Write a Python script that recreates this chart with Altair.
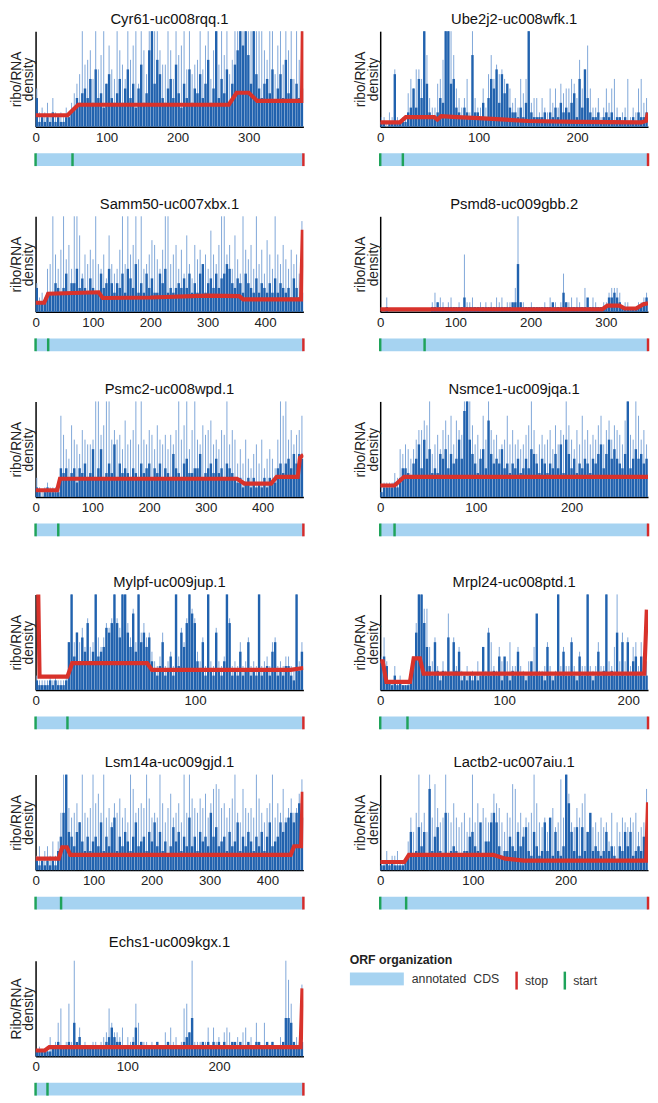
import altair as alt
import pandas as pd

FONT = "Liberation Sans"

GENES = ["Cyr61-uc008rqq.1", "Ube2j2-uc008wfk.1", "Samm50-uc007xbx.1", "Psmd8-uc009gbb.2",
         "Psmc2-uc008wpd.1", "Nsmce1-uc009jqa.1", "Mylpf-uc009jup.1", "Mrpl24-uc008ptd.1",
         "Lsm14a-uc009gjd.1", "Lactb2-uc007aiu.1", "Echs1-uc009kgx.1"]
LENGTHS = [377, 272, 467, 356, 472, 280, 168, 216, 462, 289, 292]
STARTS = [52, 23, 22, 59, 40, 15, 20, 22, 44, 28, 13]
Y_TITLES = [["ribo/RNA", "density"]] * 10 + [["Ribo/RNA", "density"]]

# bar heights, one character per bin (base-36 digit / 2 -> density, capped at 10 = top)
DARK = [
    "612121312112" "2346" "5786A5C6749B65" "7A58C6948D57" "GK9EB6" "58A6D7496C58" "7B69E58K6A7C59" "DGKHKF9KB8" "69A7C58B6E7A5968",
    "11011B1111" "3484A6K932" "2365KK9A43" "2432F33252" "6A8C5B7943" "32425K3222" "2313242534" "3572A4C632" "2312323122" "1211213223",
    "5222444654" "5846695754" "7544856964" "6584975A46" "4857448694" "5456575846" "48A4675857" "8A96576486" "5474654647" "4654537534",
    "0010000000" "0000000001" "1211111111" "1311111111" "1111111112" "2A21111111" "1111211142" "1111111311" "1111133432" "1111111123",
    "2101211116" "5645636574" "5A46A4575B" "4756546547" "5674657465" "4965478556" "6945675856" "4765434234" "2423242433" "6757869798",
    "1222232466" "5478B6C8A5" "6598A6978C" "8IKC9758A6" "G9787A6757" "685686A975" "8757696B5C" "9685768758" "79B69C8A87" "69K68A8978",
    "2111121211" "12AK7C6B8E" "68K789DCEK" "EBKKC9G8KA" "C9B6435A34" "73K5C9EKGE" "64A3K43C43" "6KE343834A" "343K34538A" "3435532K48",
    "6752131211" "136CKKE953" "A4243B3A48" "2323232393" "C343727324" "38332363G3" "329323K383" "3A32733K32" "3834K343C3" "A3A3673733",
    "2121212147" "CK8758A647" "4675A4759B" "4758647A56" "7486A58463" "5968475B57" "48675C7956" "74856A4758" "6475847A56" "7A8ABCACEB",
    "1121211112" "38349583H4" "7943C34543" "3447854A36" "6ACA534475" "4857943853" "4A4B38435K" "E8493948C4" "5434845325" "4858345474",
    "1111112232" "2232734222" "2222223464" "3322223623" "2222232223" "2222234582" "2232323232" "3223323223" "2233223232" "2238873223",
]
LIGHT = [
    "834352632324" "3579" "BKDEGAKCFK9HCA" "KGDAKEHK9KGB" "KKKKGD" "DKGAKFHKCKBD" "EKCHKAGKDKFKBE" "KKKKKKKKKK" "KGEKKBHKDKGKAKEK",
    "22132C2122" "7A8CCAKF64" "49AEKKKF86" "46A3K64484" "BFADBCA985" "64A7AK5663" "6438584978" "8A96E8CH84" "4624858A42" "34A2438A56",
    "63439AKC9D" "KBE9KKG8CA" "DBKA9C7GA8" "9DKAKCEKBK" "9ACFEB9DKK" "ACE9D8GA7E" "BDAC9HCAEK" "KCE9GB8KDB" "E9KAD8FC9K" "CAEB9DAC8J",
    "0030000000" "0000000002" "4232123112" "1C22311212" "1213231221" "5K22112111" "1213121282" "2313215213" "2112245554" "1221112234",
    "421232221H" "DA8FCB9ECB" "BCKKDFKKCE" "CDAGBCEKBK" "CBEDAFCBDA" "DBEKCFKAEK" "CBFDEGBCAE" "DKBEC7A7C8" "69B7C68A86" "CKHKCEBDEH",
    "2333354A9B" "A8ACEEGFK9" "BDAEGDHBGE" "DKKKFBDAHC" "KECDABCHBE" "BCABDFKE9B" "DBCEAFBEDK" "FCAEBHCEBD" "CFHBEGCFED" "BGKDCKHCEB",
    "3222232322" "23AKACAD9F" "9AKB9BEDFK" "FDKKEBHAKC" "EBC8657C56" "85K7DAFKHF" "86B5K65D65" "7KF565A56B" "565K5675AB" "5657754K6A",
    "7B62252311" "247EKKHH96" "B5364G4B59" "4353436394" "DA549636A5" "59543649F4" "45A534K595" "5B53855K54" "5A55K659K6" "C6B59A5A56",
    "352453636C" "KKDBCEAKCB" "DKEGCKBDAE" "CFBDAKHCDE" "DKFBCBKEAD" "GBCEAKCKFD" "CFDGBEHIHD" "EBDFKCAHDC" "DBKFCADEKB" "ECHBDFCDGJ",
    "2242334222" "6B8CKAC8KB" "IDABKCAEB9" "AC8BKAE9DB" "ACGEDA8CBI" "HAC9BACKEA" "9B89D9AJBK" "GA9DBEG8A9" "A8B9A6C5A8" "BA9BAC89AH",
    "121124237A" "23B3K36232" "2332345A75" "5462434B73" "3323232253" "63423AB5K3" "3333626342" "5652242562" "4272272232" "243KGB243F",
]
# smoothed (red) density profile, breakpoints
RED_X = [
    [0, 45, 60, 272, 283, 300, 312, 375, 376.5],
    [0, 20, 26, 55, 58, 62, 78, 100, 150, 200, 265, 270, 272],
    [0, 15, 22, 80, 110, 117, 200, 300, 355, 362, 463, 466],
    [0, 295, 302, 318, 325, 340, 350, 356],
    [0, 38, 43, 355, 368, 415, 425, 462, 466, 472],
    [0, 15, 25, 280],
    [0, 1.5, 2.5, 20, 23, 70, 73, 160, 168],
    [0, 2, 5, 24, 27, 32, 35, 213, 215],
    [0, 40, 46, 54, 60, 440, 446, 458, 461],
    [0, 26, 31, 122, 135, 155, 287, 289],
    [0, 10, 15, 289, 291],
]
RED_Y = [
    [1.2, 1.2, 2.3, 2.3, 3.55, 3.55, 2.7, 2.7, 12],
    [0.45, 0.45, 1.0, 1.0, 0.75, 1.1, 1.0, 0.9, 0.6, 0.5, 0.45, 0.6, 1.45],
    [0.95, 0.95, 1.9, 2.0, 2.05, 1.45, 1.5, 1.7, 1.65, 1.3, 1.3, 8.6],
    [0.25, 0.25, 0.65, 0.65, 0.35, 0.35, 0.8, 0.9],
    [0.7, 0.7, 1.9, 1.9, 1.4, 1.4, 2.1, 2.1, 4.1, 4.4],
    [1.2, 1.2, 2.1, 2.1],
    [12, 12, 1.4, 1.4, 2.8, 2.8, 2.1, 2.1, 2.3],
    [3.0, 3.0, 0.85, 0.85, 3.3, 3.3, 1.7, 1.7, 8.4],
    [1.2, 1.2, 2.4, 2.4, 1.6, 1.6, 2.5, 2.5, 8.2],
    [0.85, 0.85, 1.6, 1.6, 1.2, 1.0, 1.0, 7.1],
    [0.6, 0.6, 0.95, 0.95, 7.1],
]
LEGEND_FILL = ["annotated\u00a0 CDS"]
LEGEND_STROKE = ["stop", "start"]

DARK_C = "#2162ae"
LIGHT_C = "#7fa7d8"
RED_C = "#d8322b"
CDS_C = "#a6d3f1"
GREEN_C = "#1fa35a"
STOP_C = "#d42b2b"

W, H, ORF_H = 272, 97, 13


def decode(s):
    return [min(int(c, 36) / 2.0, 10.0) for c in s]


def panel(i):
    L = LENGTHS[i]
    xs = alt.Scale(domain=[0, L], nice=False, zero=False)
    ys = alt.Scale(domain=[0, 10], nice=False)
    xaxis = alt.Axis(values=list(range(0, L + 1, 100)), title=None, ticks=False, grid=False,
                     labelFontSize=13.5, labelPadding=4, labelFont=FONT, labelColor="#222",
                     labelFlush=False, domainColor="#000", domainWidth=1.5)
    yaxis = alt.Axis(title=Y_TITLES[i], labels=False, ticks=False, grid=False,
                     domainColor="#000", domainWidth=1.5, titleFontSize=14,
                     titleFontWeight="normal", titleFont=FONT, titleColor="#222",
                     titlePadding=0, titleLineHeight=12.5)

    dk = decode(DARK[i])
    bw = L / len(dk)
    dark_df = pd.DataFrame({"x0": [k * bw for k in range(len(dk))],
                            "x1": [k * bw + 0.9 * bw for k in range(len(dk))],
                            "v": dk, "base": [0.0] * len(dk)})
    lt = decode(LIGHT[i])
    bl = L / len(lt)
    light_df = pd.DataFrame({"xc": [(k + 0.45) * bl for k in range(len(lt))],
                             "v": lt, "base": [0.0] * len(lt)})
    red_df = pd.DataFrame({"x": RED_X[i], "y": RED_Y[i]})

    light = alt.Chart(light_df).mark_rule(color=LIGHT_C, strokeWidth=1.0).encode(
        x=alt.X("xc:Q", scale=xs, axis=xaxis),
        y=alt.Y("v:Q", scale=ys, axis=yaxis), y2="base:Q")
    dark = alt.Chart(dark_df).mark_rect(color=DARK_C).encode(
        x=alt.X("x0:Q", scale=xs, axis=xaxis), x2="x1:Q",
        y=alt.Y("v:Q", scale=ys, axis=yaxis), y2="base:Q")
    red = alt.Chart(red_df).mark_line(color=RED_C, strokeWidth=4.2, clip=True).encode(
        x=alt.X("x:Q", scale=xs, axis=xaxis), y=alt.Y("y:Q", scale=ys, axis=yaxis))
    layers = [light, dark, red]

    if i == len(GENES) - 1:
        fill_df = pd.DataFrame({"x0": [0], "x1": [L], "kind": LEGEND_FILL})
        leg_fill = alt.Chart(fill_df).mark_rect(opacity=0).encode(
            x=alt.X("x0:Q", scale=xs, axis=xaxis), x2="x1:Q",
            fill=alt.Fill("kind:N", scale=alt.Scale(domain=LEGEND_FILL, range=[CDS_C]),
                          legend=alt.Legend(title="ORF organization", orient="none",
                                            legendX=319, legendY=-7, direction="horizontal",
                                            symbolType="M-1,-0.24H1V0.24H-1Z", symbolSize=3025,
                                            clipHeight=14, labelOffset=8, padding=0,
                                            titleFontSize=12.5, titleFontWeight="bold",
                                            titleFont=FONT, titleColor="#222", titlePadding=6,
                                            labelFontSize=12.5, labelFont=FONT, labelColor="#333",
                                            symbolOpacity=1, symbolStrokeWidth=0)))
        stroke_df = pd.DataFrame({"p": [L, STARTS[i]], "kind": LEGEND_STROKE})
        leg_stroke = alt.Chart(stroke_df).mark_rule(opacity=0).encode(
            x=alt.X("p:Q", scale=xs, axis=xaxis),
            stroke=alt.Stroke("kind:N", scale=alt.Scale(domain=LEGEND_STROKE, range=[STOP_C, GREEN_C]),
                              legend=alt.Legend(title=None, orient="none", legendX=480, legendY=11.5,
                                                direction="horizontal", symbolType="M0,-1.3L0,1.3",
                                                symbolSize=196, symbolStrokeWidth=2.5, labelOffset=0,
                                                columnPadding=8, padding=0, labelFontSize=12.5,
                                                labelFont=FONT, labelColor="#333", symbolOpacity=1)))
        layers += [leg_fill, leg_stroke]

    dens = alt.layer(*layers).properties(
        width=W, height=H,
        title=alt.TitleParams(GENES[i], fontSize=15, fontWeight="normal", font=FONT,
                              color="#111", offset=4, frame="group"))

    bar = alt.Chart(pd.DataFrame({"x0": [0], "x1": [L]})).mark_rect(color=CDS_C).encode(
        x=alt.X("x0:Q", scale=xs, axis=None), x2="x1:Q")
    starts = alt.Chart(pd.DataFrame({"p": [0, STARTS[i]]})).mark_rule(color=GREEN_C, strokeWidth=2.5).encode(
        x=alt.X("p:Q", scale=xs, axis=None))
    stop = alt.Chart(pd.DataFrame({"p": [L]})).mark_rule(color=STOP_C, strokeWidth=2.5).encode(
        x=alt.X("p:Q", scale=xs, axis=None))
    orf = alt.layer(bar, starts, stop).properties(width=W, height=ORF_H)

    return alt.vconcat(dens, orf, spacing=7).resolve_scale(fill="independent", stroke="independent")


def row(a, b=None):
    if b is None:
        return alt.hconcat(panel(a), spacing=49)
    return alt.hconcat(panel(a), panel(b), spacing=49)


top_rows = alt.vconcat(row(0, 1), row(2, 3), row(4, 5), spacing=29)
bottom_rows = alt.vconcat(row(6, 7), row(8, 9), row(10), spacing=24)

chart = alt.vconcat(top_rows, bottom_rows, spacing=37).properties(
    padding={"left": 1, "top": -5, "right": 0, "bottom": 0}
).configure_view(strokeWidth=0)

chart.save("out.html", embed_options={"renderer": "svg", "actions": False})
